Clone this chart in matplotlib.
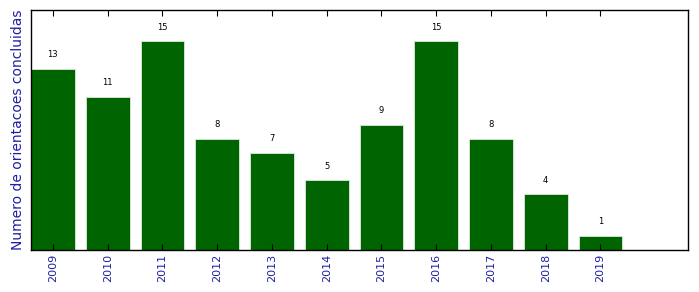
import matplotlib
matplotlib.use("Agg")
import matplotlib.pyplot as plt
import numpy as np

years = ["2009", "2010", "2011", "2012", "2013", "2014", "2015", "2016", "2017", "2018", "2019"]
counts = [13, 11, 15, 8, 7, 5, 9, 15, 8, 4, 1]
ylabel = "Numero de orientacoes concluidas"

fig = plt.figure(figsize=(6.99, 2.92), dpi=100)
ax = fig.add_axes([31/699, 42/292, (688-31)/699, 240/292])
x = np.arange(len(years))
ax.bar(x, counts, width=0.8, color="#006400", edgecolor="#d8ecd8", linewidth=0.6)
for xi, v in zip(x, counts):
    ax.text(xi, v + 0.7, str(v), ha="center", va="bottom", fontsize=6, color="black")
ax.set_xlim(-0.4, 11.6)
ax.set_ylim(0, 17.25)
ax.set_xticks(x)
ax.set_xticklabels(years, rotation=90, fontsize=8, color="#2020a0")
ax.set_yticks([])
ax.tick_params(axis="x", direction="in", top=True, bottom=True, length=4, width=0.8, color="black", pad=3)
ax.set_ylabel(ylabel, fontsize=10, color="#2020a0", labelpad=4)
for s in ax.spines.values():
    s.set_linewidth(1.0)
fig.savefig("out.png", dpi=100)
